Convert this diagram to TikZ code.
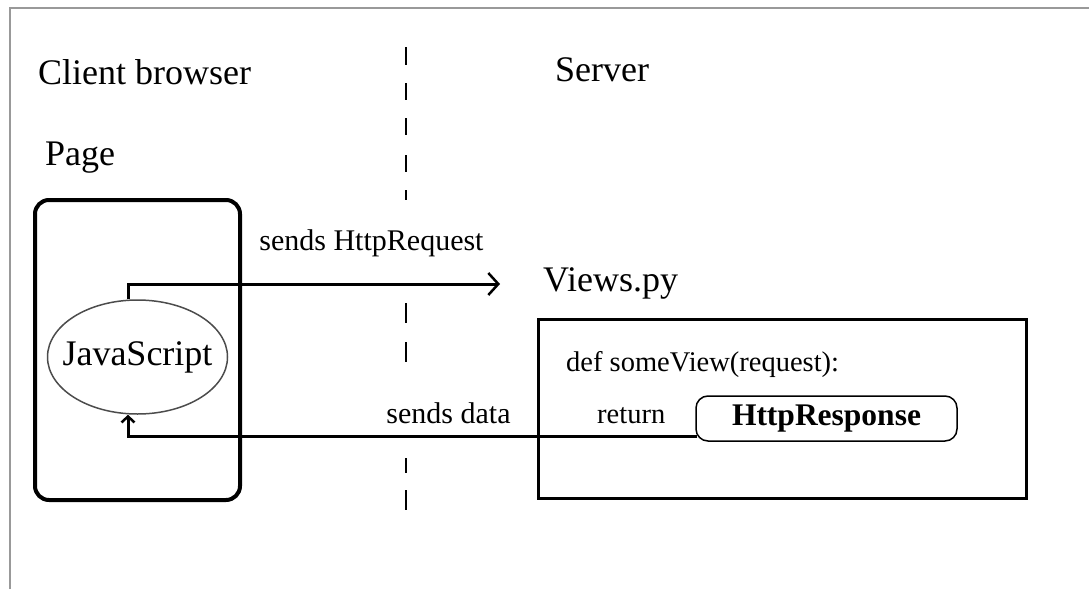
\documentclass[tikz,border=0pt]{standalone}
\usepackage{fontspec}
\setmainfont{Liberation Serif}
\usetikzlibrary{arrows.meta,positioning,calc,shapes.geometric}

\begin{document}
\begin{tikzpicture}[x=1pt,y=-1pt,
		big/.style={font=\fontsize{36}{40}\selectfont, inner sep=0pt},
		lbl/.style={font=\fontsize{30}{34}\selectfont, inner sep=2pt, fill=white},
		code/.style={font=\fontsize{28.5}{32}\selectfont, inner sep=0pt},
		flow/.style={line width=3pt}
		]
		\useasboundingbox (0,0) rectangle (1089,589);
		\draw[black!40, line width=2.5pt] (10,589) -- (10,8) -- (1089,8);

		% dashed divider between client and server
		\draw[line width=1.5pt] \foreach \ya/\yb in {47/65,83/100,118/135,155/172,190/200,303/323,342/362,458/473,490/510} {(406,\ya) -- (406,\yb)};

		\node[big, anchor=west] (client) at (38,72) {Client browser};
		\node[big, anchor=west] (page) at (45,158) {Page};
		\node[big, anchor=west] (server) at (555,70) {Server};

		% client side
		\node[draw, line width=4pt, rounded corners=14pt, minimum width=205, minimum height=300] (pagebox) at (137.5,350) {};
		\node[ellipse, draw=black!70, line width=1.5pt, minimum width=180, minimum height=114, inner sep=0pt] (js) at (137.5,357) {};
		\node[big] (jstext) at (js.center) {JavaScript};

		% server side
		\node[big, anchor=west] (viewslbl) at (543,283) {Views.py};
		\node[draw, line width=3pt, minimum width=488, minimum height=179] (views) at (782.5,409) {};
		\node[code, anchor=west] (def) at (566,364) {def someView(request):};
		\node[code, anchor=west] (ret) at (597,416) {return};
		\node[draw, line width=1.5pt, rounded corners=12pt, minimum width=261, minimum height=45,
			font=\fontsize{31.5}{34}\selectfont\bfseries] (resp) at (826.5,418.5) {HttpResponse};

		% requests and responses
		\coordinate (jstop) at ($(js.north)+(-9.5,0)$);
		\coordinate (jsbot) at ($(js.south)+(-9.5,0)$);
		\coordinate (reqend) at (500,284);
		\coordinate (respout) at ($(resp.south west)+(2,-5)$);
		\draw[flow, -{Straight Barb[length=10pt,width=22pt,line width=2.5pt]}] (jstop) |- (reqend);
		\draw[flow, -{Straight Barb[length=6pt,width=13pt,line width=2.5pt]}] (respout) -| (jsbot);

		\node[lbl] (reqlbl) at (371.5,243) {sends HttpRequest};
		\node[lbl] (datalbl) at (448.5,413) {sends data};
\end{tikzpicture}
\end{document}
